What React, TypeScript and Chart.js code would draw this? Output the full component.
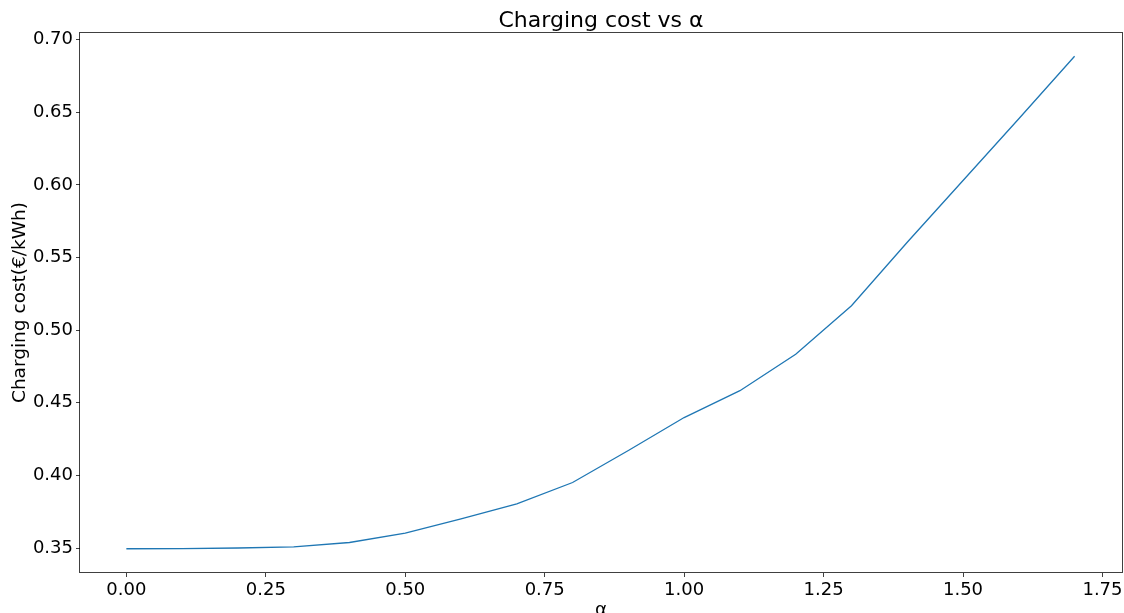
import React, { useEffect, useRef } from "react";
import { Chart, registerables } from "chart.js";

Chart.register(...registerables);

const alphaValues = [0, 0.1, 0.2, 0.3, 0.4, 0.5, 0.6, 0.7, 0.8, 0.9, 1.0, 1.1, 1.2, 1.3, 1.4, 1.5, 1.6, 1.7];
const costValues = [0.3495, 0.3496, 0.35, 0.3508, 0.3538, 0.3602, 0.37, 0.3804, 0.3951, 0.4171, 0.4398, 0.4583, 0.4834, 0.5168, 0.5605, 0.603, 0.6455, 0.6885];
const xTicks = [0, 0.25, 0.5, 0.75, 1.0, 1.25, 1.5, 1.75];
const yTicks = [0.35, 0.4, 0.45, 0.5, 0.55, 0.6, 0.65, 0.7];

const chartTitle = "Charging cost vs α";
const xTitle = "α";
const yTitle = "Charging cost(€/kWh)";

const FONT = "'DejaVu Sans', sans-serif";

const framePlugin = {
  id: "frameAndTitle",
  afterDraw(chart: any) {
    const { ctx, chartArea } = chart;
    const { left, right, top, bottom } = chartArea;
    ctx.save();
    ctx.strokeStyle = "rgba(0,0,0,0.75)";
    ctx.lineWidth = 1;
    ctx.strokeRect(Math.round(left) - 0.5, Math.round(top) + 0.5, Math.round(right) - Math.round(left) + 1, Math.round(bottom) - Math.round(top) - 1);
    ctx.fillStyle = "#000";
    ctx.font = `22px ${FONT}`;
    ctx.textAlign = "center";
    ctx.textBaseline = "alphabetic";
    ctx.fillText(chartTitle, (left + right) / 2, 27);
    ctx.restore();
  },
};

export default function App() {
  const ref = useRef<HTMLCanvasElement | null>(null);

  useEffect(() => {
    document.body.style.margin = "0";
    const canvas = ref.current;
    if (!canvas) return;
    const chart = new Chart(canvas, {
      type: "line",
      data: {
        datasets: [
          {
            data: alphaValues.map((a, i) => ({ x: a, y: costValues[i] })),
            borderColor: "#1f77b4",
            borderWidth: 1.3,
            pointRadius: 0,
            tension: 0,
            fill: false,
          },
        ],
      },
      options: {
        animation: false,
        responsive: false,
        maintainAspectRatio: false,
        layout: { padding: { top: 32, right: 2, left: 0, bottom: 0 } },
        plugins: {
          legend: { display: false },
          tooltip: { enabled: false },
          title: { display: false },
        },
        scales: {
          x: {
            type: "linear",
            min: -0.0831,
            max: 1.785,
            afterBuildTicks: (scale: any) => {
              scale.ticks = xTicks.map((v) => ({ value: v }));
            },
            afterFit: (scale: any) => {
              scale.height = 40;
              scale.paddingLeft = 0;
              scale.paddingRight = 0;
            },
            ticks: {
              color: "#000",
              font: { family: FONT, size: 18 },
              padding: 3,
              maxRotation: 0,
              autoSkip: false,
              callback: (v: any) => Number(v).toFixed(2),
            },
            grid: {
              display: true,
              drawOnChartArea: false,
              drawTicks: true,
              tickLength: 4,
              color: "rgba(0,0,0,0.75)",
            },
            border: { display: false },
            title: {
              display: true,
              text: xTitle,
              color: "#000",
              font: { family: FONT, size: 18.5 },
              padding: { top: 0, bottom: -8 },
            },
          },
          y: {
            type: "linear",
            min: 0.3328,
            max: 0.7052,
            afterBuildTicks: (scale: any) => {
              scale.ticks = yTicks.map((v) => ({ value: v }));
            },
            afterFit: (scale: any) => {
              scale.width = 80;
              scale.paddingTop = 0;
              scale.paddingBottom = 0;
            },
            ticks: {
              color: "#000",
              font: { family: FONT, size: 18 },
              padding: 3,
              autoSkip: false,
              callback: (v: any) => Number(v).toFixed(2),
            },
            grid: {
              display: true,
              drawOnChartArea: false,
              drawTicks: true,
              tickLength: 4,
              color: "rgba(0,0,0,0.75)",
            },
            border: { display: false },
            title: {
              display: true,
              text: yTitle,
              color: "#000",
              font: { family: FONT, size: 18.5 },
              padding: { top: 9, bottom: 0 },
            },
          },
        },
      },
      plugins: [framePlugin],
    });
    return () => chart.destroy();
  }, []);

  return (
    <div style={{ position: "absolute", left: 0, top: 0, width: 1124, height: 613, background: "#fff" }}>
      <canvas ref={ref} width={1124} height={613} style={{ display: "block" }} />
    </div>
  );
}
